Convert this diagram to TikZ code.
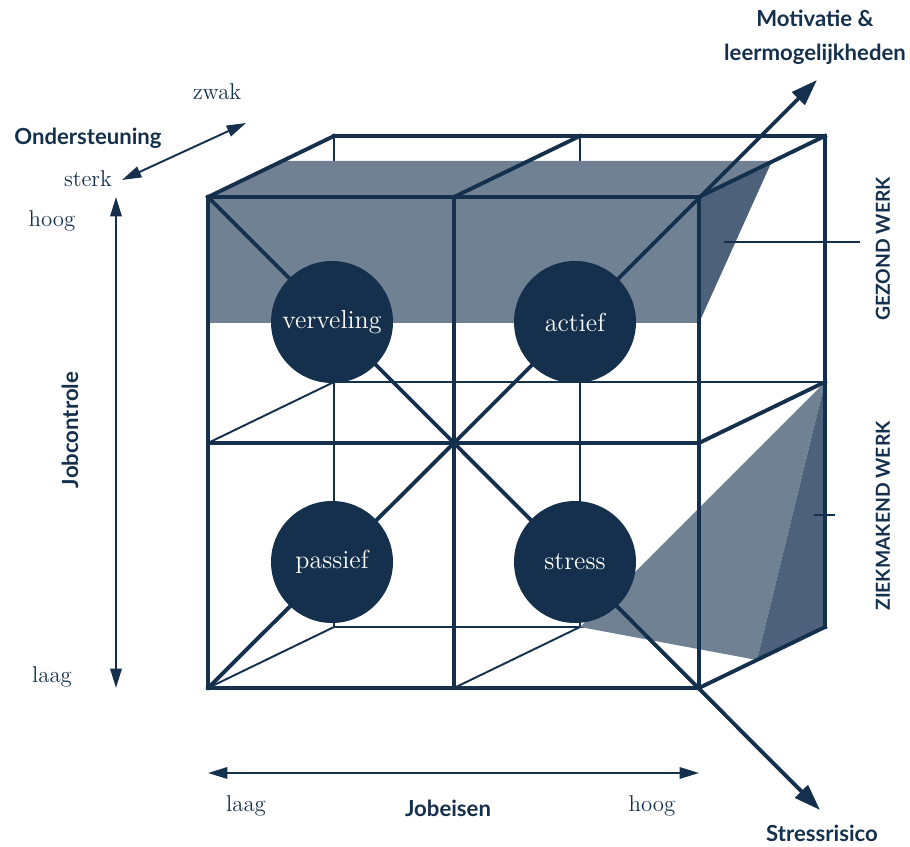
\documentclass[tikz,border=0pt]{standalone}
\usepackage{fontspec}
\newfontfamily\sansbold{Lato}
\usetikzlibrary{arrows.meta}

\definecolor{navy}{HTML}{15304C}
\definecolor{slate}{HTML}{6F8193}
\definecolor{slatedark}{HTML}{4D627A}

\tikzset{
  thickline/.style={navy,line width=2.2pt,line cap=rect},
  thinline/.style={navy,line width=1.1pt},
  axisarrow/.style={navy,line width=1.1pt,{Triangle[length=11pt,width=6.5pt]}-{Triangle[length=11pt,width=6.5pt]}},
  bigarrow/.style={navy,line width=2.2pt,-{Triangle[length=15pt,width=10pt]}},
  quadrant/.style={circle,fill=navy,minimum size=2.44cm,inner sep=0pt,text=white,font=\fontsize{14.8}{16}\selectfont},
  axislabel/.style={navy,font=\sansbold\bfseries\fontsize{12.6}{19.5}\selectfont},
  endlabel/.style={navy,font=\fontsize{13}{15}\selectfont},
  zonelabel/.style={navy,font=\sansbold\bfseries\fontsize{11}{13}\selectfont,rotate=90},
}

\begin{document}
\begin{tikzpicture}[x=0.02cm,y=-0.02cm]
	\useasboundingbox (0,0) rectangle (910,847);

	% corners of the cube: front (f) and back (b)
	\foreach \i/\x in {0/208,1/454,2/699}
		\foreach \j/\y in {0/197,1/443,2/688}{
			\coordinate (f\i\j) at (\x,\y);
			\coordinate (b\i\j) at ({\x+126},{\y-61});
		}

	% hidden back lines
	\draw[thinline] (b00)--(b02) (b10)--(b12);
	\draw[thinline] (b01)--(b21) (b02)--(b22);
	\draw[thinline] (f01)--(b01) (f02)--(b02) (f12)--(b12);

	% shaded zones
	\fill[slate] (208,323)--(f00)--(282,161)--(772,161)--(f20)--(699,323)--cycle;
	\fill[slatedark] (f20)--(772,161)--(699,323)--cycle;
	\fill[slate] (b12)--(b21)--(757,660)--cycle;
	\fill[slatedark] (b21)--(b22)--(757,660)--cycle;

	% visible edges
	\draw[thickline] (b00)--(b20)--(b22);
	\foreach \j in {0,1,2}
		\draw[thickline] (f2\j)--(b2\j);
	\draw[thickline] (f00)--(b00) (f10)--(b10);
	\draw[thickline] (f00) rectangle (f22);
	\draw[thickline] (f10)--(f12) (f01)--(f21);
	\draw[thickline] (f00)--(f11)--(f02);

	% outgoing axes
	\coordinate (motivtip) at (817,80);
	\coordinate (stresstip) at (820,810);
	\draw[bigarrow] (f11)--(motivtip);
	\draw[bigarrow] (f11)--(stresstip);

	% quadrants
	\node[quadrant] (verveling) at (332,322) {verveling};
	\node[quadrant] (actief) at (575,322) {actief};
	\node[quadrant] (passief) at (332,562) {passief};
	\node[quadrant] (stress) at (575,562) {stress};

	% axes
	\coordinate (ctop) at (116,197);
	\coordinate (cbot) at (116,688);
	\coordinate (eleft) at (208,773);
	\coordinate (eright) at (699,773);
	\coordinate (ssterk) at (122,180);
	\coordinate (szwak) at (246,123);
	\draw[axisarrow] (ctop)--(cbot);
	\draw[axisarrow] (eleft)--(eright);
	\draw[axisarrow] (ssterk)--(szwak);

	\node[axislabel,rotate=90] (jobcontrole) at (70,430) {Jobcontrole};
	\node[endlabel] (chigh) at (52,221) {hoog};
	\node[endlabel] (clow) at (52,677) {laag};
	\node[axislabel] (jobeisen) at (448,808) {Jobeisen};
	\node[endlabel] (elow) at (246,806) {laag};
	\node[endlabel] (ehigh) at (652,806) {hoog};
	\node[axislabel] (ondersteuning) at (88,138) {Ondersteuning};
	\node[endlabel] (sterk) at (88,179) {sterk};
	\node[endlabel] (zwak) at (217,92) {zwak};
	\node[axislabel,align=center] (motivatie) at (815,37) {Motivatie \&\\leermogelijkheden};
	\node[axislabel] (stressrisico) at (822,833) {Stressrisico};

	% zones
	\node[zonelabel] (gezond) at (883,249) {GEZOND WERK};
	\node[zonelabel] (ziekmakend) at (883,516) {ZIEKMAKEND WERK};
	\coordinate (gezondpt) at (724,242);
	\coordinate (gezondend) at (860,242);
	\coordinate (ziekl) at (814,515);
	\coordinate (ziekr) at (835,515);
	\draw[thinline] (gezondpt)--(gezondend);
	\draw[thinline] (ziekl)--(ziekr);
\end{tikzpicture}
\end{document}
